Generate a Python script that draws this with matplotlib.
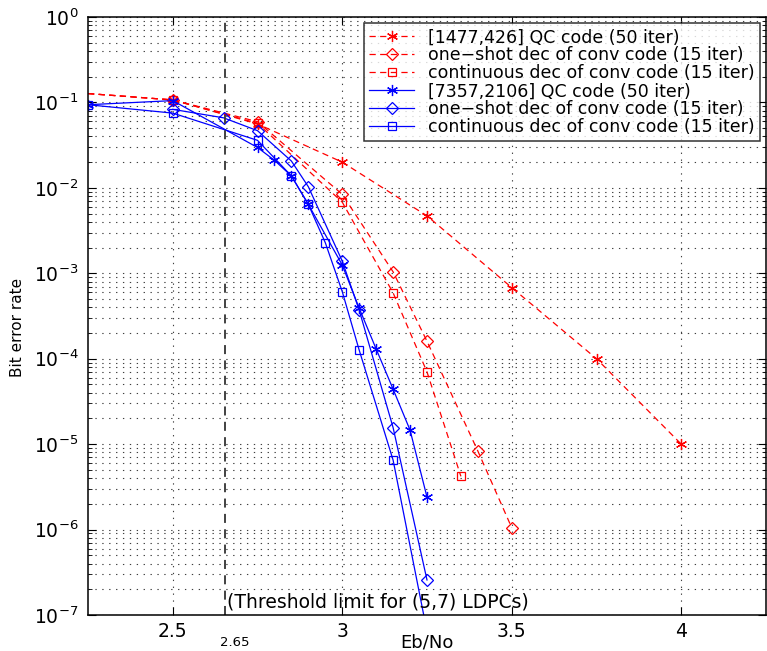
import matplotlib
matplotlib.use("Agg")
import matplotlib.pyplot as plt
from matplotlib.ticker import LogLocator, NullFormatter
import matplotlib.transforms as mtransforms

# ---- dane ----
labels = [
    "[1477,426] QC code (50 iter)",
    "one\u2212shot dec of conv code (15 iter)",
    "continuous dec of conv code (15 iter)",
    "[7357,2106] QC code (50 iter)",
    "one\u2212shot dec of conv code (15 iter)",
    "continuous dec of conv code (15 iter)",
]

red_qc_x = [2.25, 2.5, 2.75, 3.0, 3.25, 3.5, 3.75, 4.0]
red_qc_y = [0.127, 0.107, 0.056, 0.020, 4.7e-3, 6.8e-4, 1.0e-4, 1.0e-5]

red_os_x = [2.25, 2.5, 2.75, 3.0, 3.15, 3.25, 3.4, 3.5]
red_os_y = [0.127, 0.107, 0.0595, 8.4e-3, 1.04e-3, 1.6e-4, 8.3e-6, 1.05e-6]

red_ct_x = [2.25, 2.5, 2.75, 3.0, 3.15, 3.25, 3.35]
red_ct_y = [0.127, 0.107, 0.057, 6.8e-3, 5.9e-4, 7.0e-5, 4.2e-6]

blue_qc_x = [2.25, 2.5, 2.75, 2.8, 2.85, 2.9, 3.0, 3.05, 3.1, 3.15, 3.2, 3.25]
blue_qc_y = [0.094, 0.105, 0.0297, 0.021, 0.0138, 6.4e-3, 1.25e-3, 3.9e-4, 1.3e-4,
             4.4e-5, 1.46e-5, 2.4e-6]

blue_os_x = [2.5, 2.65, 2.75, 2.85, 2.9, 3.0, 3.05, 3.15, 3.25]
blue_os_y = [0.083, 0.066, 0.0467, 0.0206, 0.0103, 1.39e-3, 3.7e-4, 1.56e-5, 2.57e-7]

blue_ct_x = [2.25, 2.5, 2.75, 2.85, 2.9, 2.95, 3.0, 3.05, 3.15, 3.25]
blue_ct_y = [0.094, 0.075, 0.036, 0.0138, 6.4e-3, 2.28e-3, 6.1e-4, 1.26e-4, 6.5e-6, 6.4e-8]

threshold = 2.655
x_ticks = [2.5, 3, 3.5, 4]
x_ticklabels = ["2.5", "3", "3.5", "4"]

plt.rcParams['font.family'] = ['DejaVu Sans']
plt.rcParams['mathtext.fontset'] = 'dejavusans'

W, H = 767, 651
fig = plt.figure(figsize=(W / 100, H / 100), dpi=100)
# obszar osi w pikselach: lewo 88, prawo 766, gora 17, dol 615
ax = fig.add_axes([88 / W, (H - 615) / H, (766 - 88) / W, (615 - 17) / H])

RED = '#ff0000'
BLUE = '#0000ff'
asterisk = (6, 2, 0)

series = [
    (red_qc_x, red_qc_y, RED, '--', asterisk, 8),
    (red_os_x, red_os_y, RED, '--', 'D', 6),
    (red_ct_x, red_ct_y, RED, '--', 's', 6),
    (blue_qc_x, blue_qc_y, BLUE, '-', asterisk, 8),
    (blue_os_x, blue_os_y, BLUE, '-', 'D', 6),
    (blue_ct_x, blue_ct_y, BLUE, '-', 's', 6),
]

for (xs, ys, col, ls, mk, ms), lab in zip(series, labels):
    line, = ax.semilogy(xs, ys, color=col, linewidth=0.9,
                        marker=mk, markersize=ms, markerfacecolor='none',
                        markeredgecolor=col, markeredgewidth=0.9, label=lab)
    if ls == '--':
        # czerwone linie zaczynaja sie na krawedzi osi, bez znacznika
        line.set_dashes((5, 3.5))
        line.set_markevery(slice(1, None))

# linia progu
ax.axvline(threshold, color='#333333', linewidth=1.3, dashes=(5, 3.5))
ax.text(threshold + 0.005, 1.42e-7, "(Threshold limit for (5,7) LDPCs)",
        ha='left', va='center', fontsize=13.5)
trans = mtransforms.blended_transform_factory(ax.transData, ax.transAxes)
ax.text(2.682, -0.046, "2.65", transform=trans, ha='center', va='center', fontsize=9.5)

ax.set_xlim(2.25, 4.25)
ax.set_ylim(1e-7, 1)
ax.set_xticks(x_ticks)
ax.set_xticklabels(x_ticklabels)
ax.yaxis.set_major_locator(LogLocator(base=10, numticks=10))
ax.yaxis.set_minor_locator(LogLocator(base=10, subs=range(2, 10), numticks=100))
ax.yaxis.set_minor_formatter(NullFormatter())

dotted = (0, (1.2, 5))
ax.grid(True, which='major', axis='both', linestyle=dotted, color='#404040', linewidth=0.8)
ax.grid(True, which='minor', axis='y', linestyle=dotted, color='#404040', linewidth=0.8)

ax.tick_params(direction='in', which='both', top=True, right=True, labelsize=13.5)
ax.tick_params(which='major', length=6)
ax.tick_params(which='minor', length=3)
ax.tick_params(axis='x', pad=5)
ax.tick_params(axis='y', pad=7)
for sp in ax.spines.values():
    sp.set_linewidth(1.1)

ax.set_xlabel("Eb/No", fontsize=13)
ax.xaxis.set_label_coords(0.5, -0.031)
fig.text(18 / W, 1 - 327 / H, "Bit error rate", rotation=90, ha='center', va='center',
         fontsize=11)

leg = ax.legend(loc='upper right', fontsize=12.5, frameon=True, fancybox=False,
                edgecolor='black', borderaxespad=0.35, handlelength=2.6,
                labelspacing=0.0, borderpad=0.3, handletextpad=0.8)
leg.get_frame().set_linewidth(1.1)

fig.savefig("out.png", dpi=100)
